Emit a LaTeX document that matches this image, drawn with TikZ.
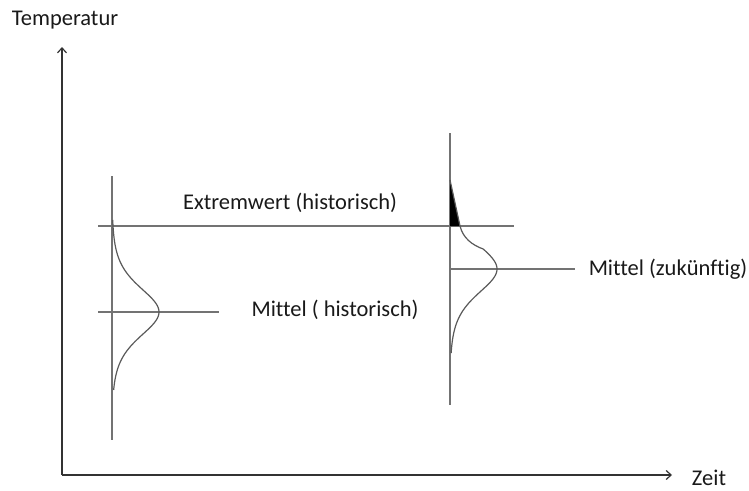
\documentclass[tikz,border=0pt]{standalone}
\usepackage{fontspec}
\setmainfont[Ligatures={NoCommon}]{Carlito}
\usetikzlibrary{arrows.meta}
\begin{document}
\begin{tikzpicture}[x=1pt,y=-1pt,
  axis/.style={draw=black!80,line width=1.2pt,-{Straight Barb[length=5pt,width=9pt]}},
  guide/.style={draw=black!55,line width=1.2pt},
  curve/.style={draw=black!65,line width=1.2pt},
  lbl/.style={font=\fontsize{22.5}{26}\selectfont,text=black!90,inner sep=0pt}]
\useasboundingbox (0,0) rectangle (749,490);
% axes
\coordinate (O) at (62,475);
\coordinate (Ytop) at (62,47);
\coordinate (Xend) at (672,475);
\draw[axis] (O) -- (Ytop);
\draw[axis] (O) -- (Xend);
\node[lbl] (temp) at (65,20) {Temperatur};
\node[lbl] (zeit) at (709,478) {Zeit};
% left distribution
\coordinate (L1) at (112,176);
\coordinate (L2) at (112,440);
\draw[guide] (L1) -- (L2);
\coordinate (E1) at (98,226);
\coordinate (E2) at (514,226);
\draw[guide] (E1) -- (E2);
\coordinate (M1) at (98,312);
\coordinate (M2) at (219,312);
\draw[guide] (M1) -- (M2);
\draw[curve] plot[domain=-92:78,samples=120,smooth,variable=\t] ({112+47/(cosh(\t/33)^2)},{312+\t});
% right distribution
\coordinate (R1) at (450,133);
\coordinate (R2) at (450,405);
\draw[guide] (R1) -- (R2);
\coordinate (N1) at (450,269);
\coordinate (N2) at (575,269);
\draw[guide] (N1) -- (N2);
\coordinate (Wtop) at (450,180);
\coordinate (Wbot) at (460,226);
\coordinate (Wbase) at (450,226);
\coordinate (Wjoin) at (483.2,249);
\fill[black] (Wtop) -- (Wbot) -- (Wbase) -- cycle;
\draw[curve,line join=round] (Wtop) -- (Wbot) .. controls (463,238) and (472,245) .. (Wjoin)
  -- plot[domain=-20:84,samples=110,smooth,variable=\t] ({450+47/(cosh(\t/33)^2)},{269+\t});
% labels
\node[lbl] (ext) at (290,203) {Extremwert (historisch)};
\node[lbl] (mh) at (335,310) {Mittel ( historisch)};
\node[lbl] (mz) at (668,269) {Mittel (zukünftig)};
\end{tikzpicture}
\end{document}
